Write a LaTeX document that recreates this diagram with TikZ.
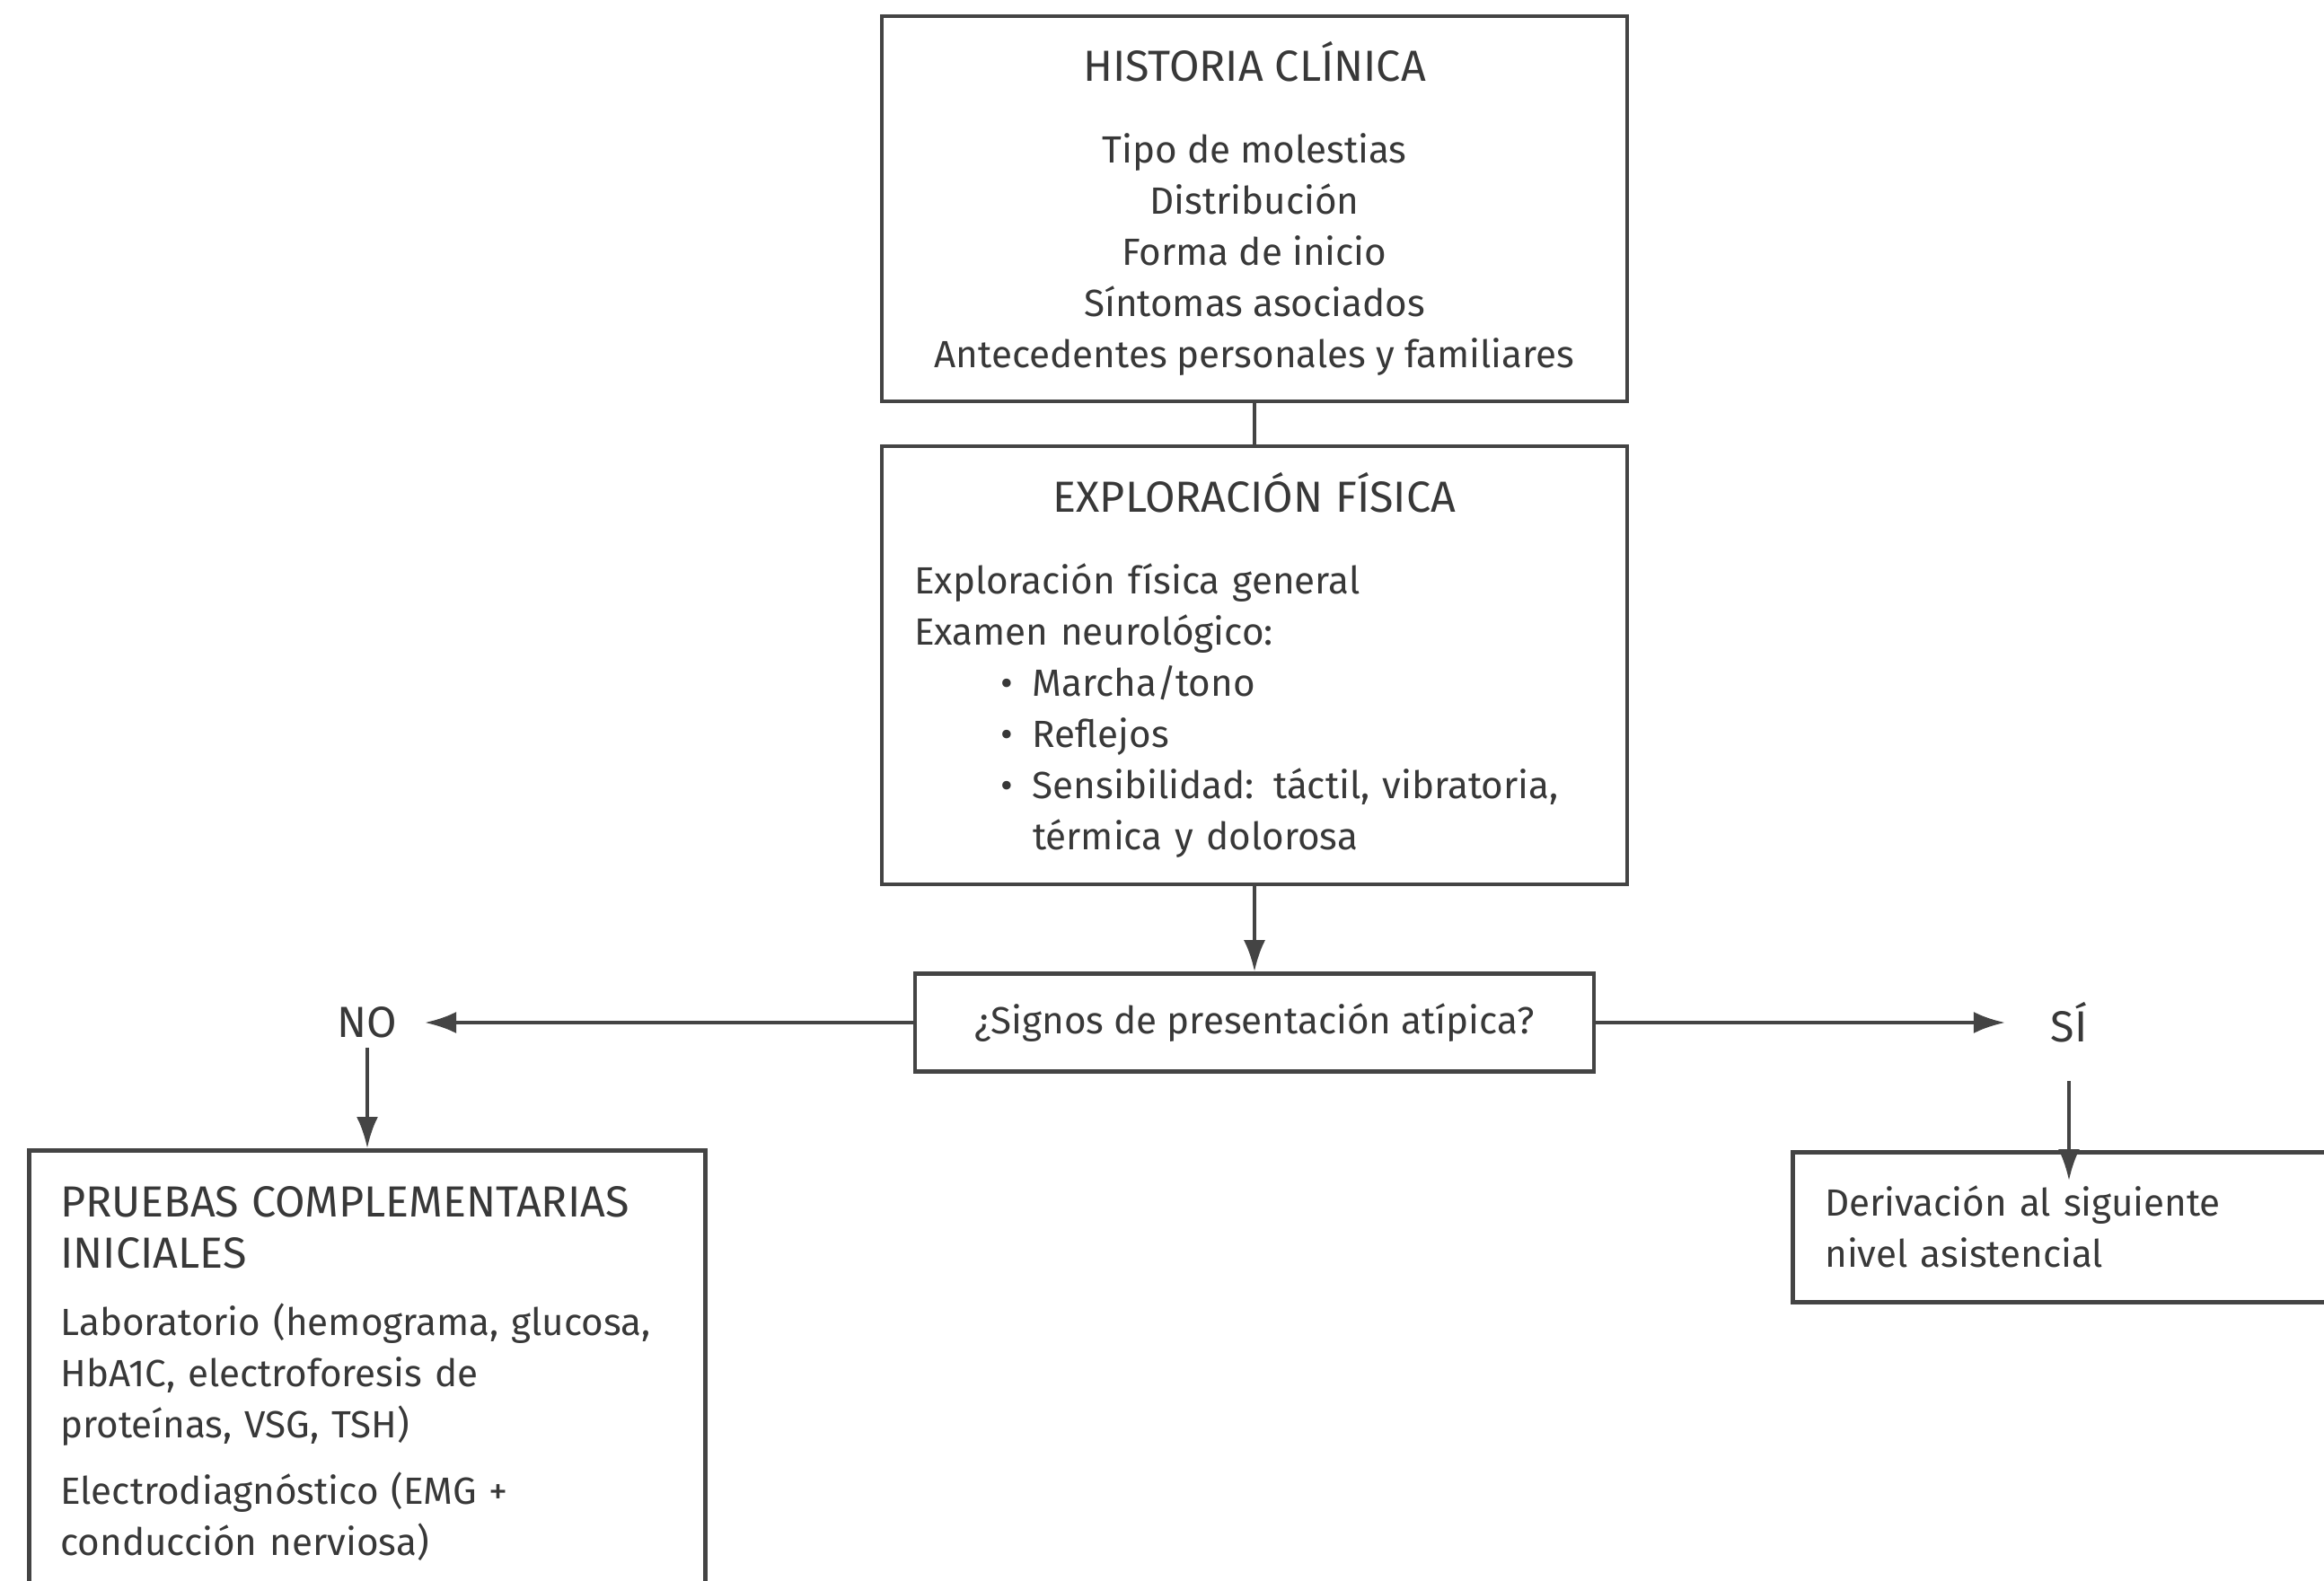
\documentclass[tikz,border=0pt]{standalone}
\usepackage{fontspec}
\setmainfont{Fira Sans}
\usetikzlibrary{arrows.meta}
\definecolor{tinta}{HTML}{383838}
\definecolor{trazo}{HTML}{444444}
\newcommand\cabecera[1]{{\fontsize{13.8}{16.2}\selectfont #1}}

\begin{document}
\begin{tikzpicture}[
    caja/.style={rectangle, draw=trazo, line width=1.3pt, text=tinta, font=\fontsize{12}{16.2}\selectfont},
    etiqueta/.style={text=tinta, font=\fontsize{13.8}{16.2}\selectfont},
    flecha/.style={->, >={Latex[length=3.5mm, width=2.4mm]}, draw=trazo, line width=1.2pt}
]
    \useasboundingbox (0,0) rectangle (25.88,-17.61);
    \clip (0,0) rectangle (25.88,-17.61);
    \fill[white] (0,0) rectangle (25.88,-17.61);

    % Cajas
    \node[caja, minimum width=8.3cm, minimum height=4.29cm, align=center] (historia) at (13.97,-2.325) {\cabecera{HISTORIA CLÍNICA}\\[0.34cm]Tipo de molestias\\Distribución\\Forma de inicio\\Síntomas asociados\\Antecedentes personales y familiares};
    \node[caja, minimum height=4.88cm, text width=7.58cm, inner xsep=0.36cm, align=left] (exploracion) at (13.97,-7.41) {\makebox[7.58cm]{\cabecera{EXPLORACIÓN FÍSICA}}\\[0.34cm]Exploración física general\\Examen neurológico:\\\hspace*{0.96cm}\makebox[0.36cm][l]{\textbullet}Marcha/tono\\\hspace*{0.96cm}\makebox[0.36cm][l]{\textbullet}Reflejos\\\hspace*{0.96cm}\makebox[0.36cm][l]{\textbullet}Sensibilidad: táctil, vibratoria,\\\hspace*{1.32cm}térmica y dolorosa};
    \node[caja, minimum width=7.56cm, minimum height=1.09cm] (signos) at (13.97,-11.39) {¿Signos de presentación atípica?};
    \node[etiqueta, inner xsep=0.3cm, inner ysep=0.1cm] (no) at (4.09,-11.39) {NO};
    \node[etiqueta, inner xsep=0.5cm, inner ysep=0.42cm] (si) at (23.04,-11.39) {SÍ};
    \node[caja, anchor=north, text width=6.83cm, inner xsep=0.35cm, inner ysep=0.4cm, align=left] (pruebas) at (4.09,-12.79) {\cabecera{PRUEBAS COMPLEMENTARIAS}\\\cabecera{INICIALES}\\[0.18cm]Laboratorio (hemograma, glucosa,\\HbA1C, electroforesis de\\proteínas, VSG, TSH)\\[0.18cm]Electrodiagnóstico (EMG +\\conducción nerviosa)\\\rule{0pt}{0.6cm}};
    \node[caja, anchor=north west, text width=7.5cm, inner xsep=0.36cm, minimum height=1.67cm, align=left] (derivacion) at (19.94,-12.81) {Derivación al siguiente\\nivel asistencial};

    % Conectores
    \draw[draw=trazo, line width=1.2pt] (historia) -- (exploracion);
    \draw[flecha] (exploracion) -- (signos);
    \draw[flecha] (signos) -- (no);
    \draw[flecha] (signos) -- (si);
    \draw[flecha] (no) -- (pruebas);
    \draw[flecha, shorten >=-0.34cm] (si) -- (si |- derivacion.north);
\end{tikzpicture}
\end{document}
